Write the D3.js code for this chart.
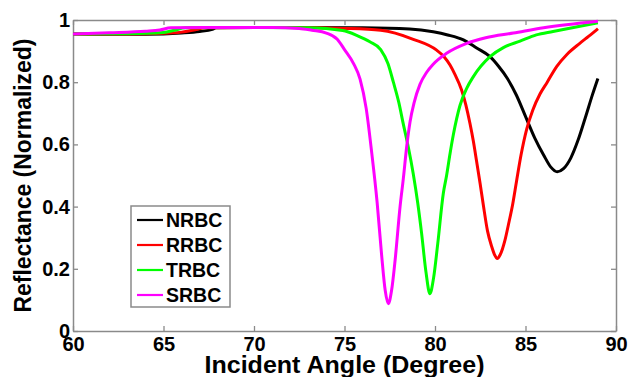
<!DOCTYPE html>
<html>
<head>
<meta charset="utf-8">
<script src="https://cdn.jsdelivr.net/npm/d3@7/dist/d3.min.js"></script>
<style>
  html, body { margin: 0; padding: 0; background: #fff; }
  svg { display: block; }
  text { font-family: "Liberation Sans", Arial, sans-serif; font-weight: bold; }
</style>
</head>
<body>
<svg id="chart" width="630" height="377"></svg>
<script>
// Reflectance spectra [incident angle (deg), normalized reflectance]
const nrbc = [[60,0.955],[62,0.954],[64,0.954],[66,0.958],[67,0.963],[67.7,0.970],[67.9,0.975],[72,0.976],[76,0.975],[78.6,0.971],[79.9,0.962],[80.7,0.952],[81.57,0.936],[82.3,0.910],[83.04,0.882],[83.5,0.852],[84.0,0.812],[84.5,0.758],[85.0,0.69],[85.5,0.622],[86.0,0.566],[86.4,0.527],[86.75,0.512],[87.1,0.522],[87.5,0.556],[87.9,0.613],[88.3,0.685],[88.7,0.76],[89,0.812]];
const rrbc = [[60,0.955],[63,0.955],[65,0.957],[66,0.961],[66.8,0.969],[67.3,0.975],[72,0.976],[75,0.973],[77.0,0.967],[78.8,0.938],[80.09,0.903],[80.5,0.882],[80.83,0.855],[81.1,0.825],[81.47,0.775],[81.7,0.728],[81.93,0.668],[82.12,0.61],[82.3,0.545],[82.49,0.475],[82.67,0.405],[82.9,0.322],[83.13,0.272],[83.3,0.244],[83.44,0.233],[83.6,0.245],[83.87,0.293],[84.05,0.34],[84.3,0.41],[84.5,0.48],[84.75,0.565],[85.07,0.65],[85.4,0.71],[85.8,0.762],[86.2,0.80],[86.72,0.85],[87.3,0.89],[88.0,0.925],[88.5,0.948],[89,0.972]];
const trbc = [[60,0.955],[63,0.956],[65,0.960],[65.6,0.967],[66.2,0.975],[70,0.976],[73,0.975],[74.9,0.966],[75.7,0.95],[76.4,0.93],[77.0,0.905],[77.4,0.86],[77.7,0.80],[78.0,0.735],[78.25,0.665],[78.53,0.59],[78.8,0.505],[79.05,0.41],[79.26,0.314],[79.5,0.19],[79.72,0.12],[79.92,0.17],[80.15,0.28],[80.46,0.443],[80.64,0.50],[80.83,0.57],[81.01,0.63],[81.38,0.725],[81.75,0.78],[82.12,0.818],[83.04,0.882],[83.8,0.912],[84.7,0.932],[85.6,0.952],[86.52,0.963],[89,0.991]];
const srbc = [[60,0.955],[62,0.959],[64,0.964],[64.8,0.968],[65.4,0.975],[68,0.976],[71,0.976],[72.5,0.973],[73.2,0.967],[74.0,0.958],[74.6,0.938],[75.0,0.905],[75.5,0.86],[75.86,0.81],[76.2,0.715],[76.5,0.575],[76.8,0.415],[77.05,0.245],[77.25,0.13],[77.42,0.088],[77.6,0.13],[77.8,0.23],[78.07,0.40],[78.25,0.49],[78.44,0.595],[78.62,0.672],[78.85,0.735],[79.17,0.793],[79.54,0.832],[79.9,0.858],[80.64,0.893],[81.75,0.925],[82.8,0.943],[84.33,0.958],[86,0.975],[89,0.996]];

const seriesNames = ["NRBC", "RRBC", "TRBC", "SRBC"];
const seriesColors = ["#000000", "#ff0000", "#00ff00", "#ff00ff"];
const seriesData = [nrbc, rrbc, trbc, srbc];

const xTicks = [60, 65, 70, 75, 80, 85, 90];
const yTicks = [0, 0.2, 0.4, 0.6, 0.8, 1];
const yTickLabels = ["0", "0.2", "0.4", "0.6", "0.8", "1"];

const W = 630, H = 377;
const margin = { left: 73, top: 20, right: 14, bottom: 46 };
const iw = W - margin.left - margin.right;
const ih = H - margin.top - margin.bottom;

const svg = d3.select("#chart");
const g = svg.append("g").attr("transform", `translate(${margin.left},${margin.top})`);

const x = d3.scaleLinear().domain([60, 90]).range([0, iw]);
const y = d3.scaleLinear().domain([0, 1]).range([ih, 0]);

const axisColor = "#8a8a8a";
function styleAxis(sel) {
  sel.select(".domain").attr("stroke", axisColor).attr("stroke-width", 1.5);
  sel.selectAll(".tick line").attr("stroke", axisColor).attr("stroke-width", 1.3);
  sel.selectAll(".tick text").attr("fill", "#000").style("font-size", "20px")
     .style("font-family", '"Liberation Sans", Arial, sans-serif').style("font-weight", "bold");
}

// Box axes with inward ticks
g.append("g").attr("transform", `translate(0,${ih})`)
  .call(d3.axisBottom(x).tickValues(xTicks).tickSizeInner(-5).tickSizeOuter(0).tickPadding(6))
  .call(styleAxis);
g.append("g")
  .call(d3.axisLeft(y).tickValues(yTicks).tickFormat((d, i) => yTickLabels[i]).tickSizeInner(-5).tickSizeOuter(0).tickPadding(3))
  .call(styleAxis);
g.append("g")
  .call(d3.axisTop(x).tickValues(xTicks).tickFormat("").tickSizeInner(-5).tickSizeOuter(0))
  .call(styleAxis);
g.append("g").attr("transform", `translate(${iw},0)`)
  .call(d3.axisRight(y).tickValues(yTicks).tickFormat("").tickSizeInner(-5).tickSizeOuter(0))
  .call(styleAxis);

// Curves
const line = d3.line().x(d => x(d[0])).y(d => y(d[1])).curve(d3.curveMonotoneX);
seriesData.forEach((data, i) => {
  g.append("path").datum(data)
    .attr("fill", "none")
    .attr("stroke", seriesColors[i])
    .attr("stroke-width", 3)
    .attr("stroke-linejoin", "round")
    .attr("d", line);
});

// Legend
const lg = svg.append("g").attr("transform", "translate(131,206)");
lg.append("rect").attr("width", 99).attr("height", 101)
  .attr("fill", "#fff").attr("stroke", axisColor).attr("stroke-width", 1.5);
seriesNames.forEach((name, i) => {
  const yy = 14 + i * 25;
  lg.append("line").attr("x1", 6).attr("x2", 32).attr("y1", yy).attr("y2", yy)
    .attr("stroke", seriesColors[i]).attr("stroke-width", 2.2);
  lg.append("text").attr("x", 35).attr("y", yy).attr("dy", "0.36em")
    .style("font-size", "19.5px").attr("fill", "#000").text(name);
});

// Axis titles
svg.append("text")
  .attr("x", margin.left + iw / 2).attr("y", 373)
  .attr("text-anchor", "middle").style("font-size", "23px")
  .attr("textLength", 280).attr("lengthAdjust", "spacingAndGlyphs")
  .text("Incident Angle (Degree)");
svg.append("text")
  .attr("transform", `translate(31,${margin.top + ih / 2}) rotate(-90)`)
  .attr("text-anchor", "middle").style("font-size", "23px")
  .attr("textLength", 274).attr("lengthAdjust", "spacingAndGlyphs")
  .text("Reflectance (Normalized)");
</script>
</body>
</html>
